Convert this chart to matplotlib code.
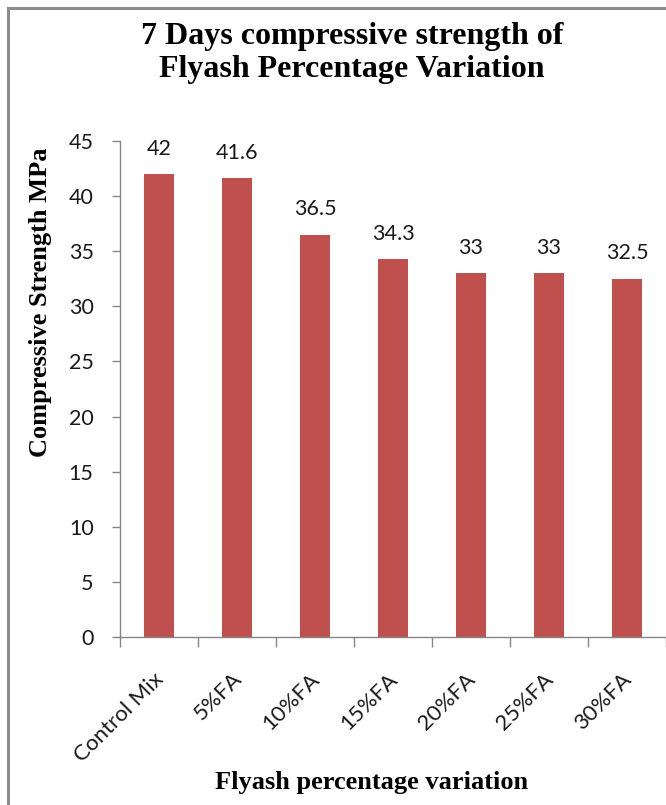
import matplotlib
matplotlib.use("Agg")
import matplotlib.pyplot as plt
from matplotlib.patches import Rectangle
from matplotlib.transforms import ScaledTranslation

# 7 day compressive strength for each flyash replacement level
mixes = ["Control Mix", "5%FA", "10%FA", "15%FA", "20%FA", "25%FA", "30%FA"]
strength = [42, 41.6, 36.5, 34.3, 33, 33, 32.5]
y_ticks = [0, 5, 10, 15, 20, 25, 30, 35, 40, 45]

bar_color = "#C0504D"
axis_color = "#868686"
label_font = "Lato"
serif_font = "Liberation Serif"

fig = plt.figure(figsize=(6.66, 8.05), dpi=100)

# chart area frame
fig.patches.append(Rectangle((8 / 666, -0.1), 1.2, 1 - 8 / 805 + 0.1,
                             transform=fig.transFigure, fill=False,
                             edgecolor="#8C8C8C", linewidth=2.2))

ax = fig.add_axes([120 / 666, 1 - 637 / 805, 546 / 666, (637 - 141) / 805])
x = range(len(mixes))
bars = ax.bar(x, strength, width=0.39, color=bar_color)

ax.set_xlim(-0.5, len(mixes) - 0.5)
ax.set_ylim(0, 45)
ax.set_yticks(y_ticks)
ax.set_yticklabels([str(v) for v in y_ticks], fontfamily=label_font, fontsize=15.5, color="#1a1a1a")

# category ticks sit on the boundaries between bars
ax.set_xticks([i - 0.5 for i in range(len(mixes) + 1)])
ax.set_xticklabels([])
ax.tick_params(axis="x", length=7, color=axis_color, width=1)
ax.tick_params(axis="y", length=6, color=axis_color, width=1, pad=13)

for s in ["top", "right"]:
    ax.spines[s].set_visible(False)
for s in ["left", "bottom"]:
    ax.spines[s].set_color(axis_color)
    ax.spines[s].set_linewidth(1)

# rotated category names
offset = ScaledTranslation(1 / 72, -28 / 72, fig.dpi_scale_trans)
for i, name in enumerate(mixes):
    ax.text(i, 0, name, rotation=45, rotation_mode="anchor", ha="right", va="center",
            fontfamily=label_font, fontsize=16, color="#1a1a1a",
            transform=ax.transData + offset, clip_on=False)

# value labels above the bars
for i, v in enumerate(strength):
    ax.annotate(f"{v:g}", (i, v), xytext=(0, 11), textcoords="offset points",
                ha="center", va="bottom", fontfamily=label_font, fontsize=15.5, color="#1a1a1a")

fig.text(352 / 666, 1 - 53 / 805, "7 Days compressive strength of\nFlyash Percentage Variation",
         ha="center", va="center", fontfamily=serif_font, fontweight="bold", fontsize=23,
         linespacing=1.15)
fig.text(41 / 666, 1 - 302 / 805, "Compressive Strength MPa", rotation=90,
         ha="center", va="center", fontfamily=serif_font, fontweight="bold", fontsize=19)
fig.text(372 / 666, 1 - 782 / 805, "Flyash percentage variation",
         ha="center", va="center", fontfamily=serif_font, fontweight="bold", fontsize=19)

fig.savefig("out.png", dpi=100)
